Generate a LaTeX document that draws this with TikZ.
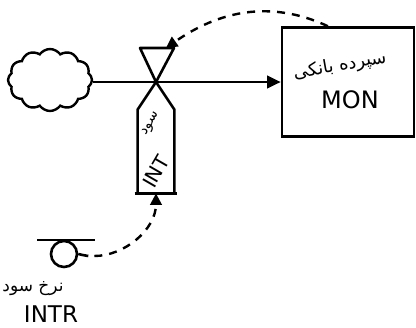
\documentclass[tikz,border=0pt]{standalone}
\usepackage{fontspec}
\setsansfont{DejaVu Sans}
\newfontfamily\arabicfont[Script=Arabic]{DejaVu Sans}
\TeXXeTstate=1
\usetikzlibrary{arrows.meta, positioning, shapes.symbols, calc}
\tikzset{
  lineK/.style={draw=black, line width=1.3pt},
  arrowK/.style={-{Triangle[length=2.4mm, width=2.2mm]}, black, line width=1.3pt},
  linkD/.style={-{Triangle[length=2mm, width=2mm]}, black, line width=1.2pt,
                dash pattern=on 4pt off 3.5pt},
  cloudA/.style={cloud, cloud puffs=12, cloud puff arc=110, aspect=1.35,
                 draw, line width=1.2pt, minimum width=42pt, minimum height=31pt},
  stockA/.style={rectangle, draw, line width=1.3pt, minimum width=66pt,
                 minimum height=54.5pt, inner sep=0pt},
  convA/.style={circle, draw, line width=1.3pt, minimum size=13pt, inner sep=0pt},
  txtL/.style={font=\sffamily\fontsize{11.5}{13}\selectfont, inner sep=0pt},
  txtP/.style={font=\arabicfont\fontsize{8.5}{10}\selectfont, inner sep=0pt},
}
\begin{document}
\begin{tikzpicture}[x=0.5pt, y=-0.5pt]
    \useasboundingbox (0,0) rectangle (416,327);
    %% Fuente, nivel y flujo
    \node[cloudA] (src) at (50,80) {};
    \node[stockA] (mon) at (348,82) {};
    \coordinate (vlv) at (156,82);
    \draw[arrowK] (src.east |- vlv) -- (mon.west |- vlv);
    %% Valvula y tasa
    \coordinate (vtl) at (140,48); \coordinate (vtr) at (174,48);
    \coordinate (vtop) at (166,48);
    \draw[lineK, line join=round] (vlv) -- (vtl) -- (vtr) -- cycle;
    \node[minimum width=18pt, minimum height=41.5pt, inner sep=0pt] (int) at (156,151.5) {};
    \draw[lineK, line join=round] (int.south west) -- (int.north west) -- (vlv)
         -- (int.north east) -- (int.south east);
    \draw[lineK] ([xshift=-1.5pt]int.south west) -- ([xshift=1.5pt]int.south east);
    \node[txtP, rotate=60, font=\arabicfont\fontsize{7}{8}\selectfont] (intP) at (151,124) {\beginR سود\endR};
    \node[txtL, rotate=60, font=\sffamily\fontsize{10}{12}\selectfont] (intL) at (156,172) {INT};
    %% Textos del nivel
    \node[txtP, rotate=10, font=\arabicfont\fontsize{9}{11}\selectfont] (monP) at (340,66) {\beginR سپرده بانکی\endR};
    \node[txtL, font=\sffamily\fontsize{12}{14}\selectfont] (monL) at (350,100) {MON};
    %% Convertidor
    \node[convA] (intr) at (64,254) {};
    \draw[lineK] (37,240) -- (95,240);
    \draw[lineK] (intr.east) to[out=-5, in=180] ++(10,2) coordinate (tl);
    \node[txtP] (intrP) at (33,289) {\beginR نرخ سود\endR};
    \node[txtL, font=\sffamily\fontsize{11.5}{13}\selectfont] (intrL) at (51,314) {INTR};
    %% Enlaces de informacion
    \draw[linkD, shorten <=3pt] (tl) to[out=0, in=-90] (int.south);
    \draw[linkD] ($(mon.north west)!0.35!(mon.north east)$) to[out=155, in=35] (vtop);
\end{tikzpicture}
\end{document}
